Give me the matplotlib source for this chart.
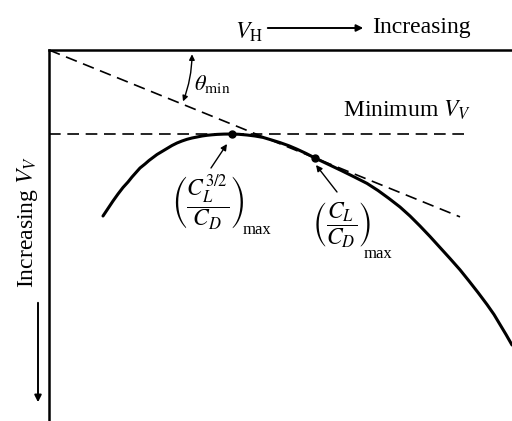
import numpy as np
import matplotlib
matplotlib.use('Agg')
import matplotlib.pyplot as plt
from matplotlib.patches import FancyArrowPatch

plt.rcParams['font.family'] = ['Liberation Serif', 'DejaVu Serif']
plt.rcParams['mathtext.fontset'] = 'stix'

# glide hodograph: horizontal speed vs sink speed (arbitrary units, sink positive downward)
vh = [54, 59, 64, 69, 74, 79, 83, 87, 91, 96, 100, 104, 108, 113, 118, 123, 128, 133,
      138, 143, 148, 153, 158, 163, 168, 175, 183, 190, 198, 206, 214, 222,
      231, 240, 248, 257, 266, 279, 292, 305, 318, 329, 340, 351, 361, 371,
      381, 391, 401, 411, 420, 429, 438, 445, 451, 457, 463]
vv = [166, 158.5, 151, 144, 137.5, 132, 127, 122.5, 118, 114, 110.5, 107.5, 104.5, 101.5,
      98.5, 95.5, 93, 91, 89.3, 88, 87, 86, 85.3, 84.8, 84.4, 84.1, 84, 84.3, 85, 86,
      87.4, 89.8, 92.6, 95.8, 99.2, 103.4, 108, 114.2, 120.4, 126.8, 133.4, 140.5,
      148.5, 157, 166, 176, 186.5, 197.5, 208.5, 219.8, 231, 242.5, 254.5, 264.5,
      274.5, 284.5, 295]

# operating points
vh_endur, vv_endur = 183, 84      # (CL^3/2 / CD)max  -> minimum sink
vh_range, vv_range = 266, 108     # (CL/CD)max        -> tangent from origin
vh_stop = 411                     # end of the tangent line
vh_hline = 420                    # end of the minimum-sink line

fig = plt.figure(figsize=(5.12, 4.21), dpi=100)
ax = fig.add_axes([49/512, 0.0, 463/512, 371/421])
ax.set_xlim(0, 463)
ax.set_ylim(371, 0)

ax.plot(vh, vv, color='black', lw=2.2, solid_capstyle='round', solid_joinstyle='round')

dash = (0, (7, 4))
# minimum sink speed line
ax.plot([0, vh_hline], [vv_endur, vv_endur], color='black', lw=1.2, ls=dash)

# tangent from origin through the best glide point
slope = vv_range / vh_range
ax.plot([0, vh_stop], [0, slope * vh_stop], color='black', lw=1.2, ls=dash)

ax.plot([vh_endur, vh_range], [vv_endur, vv_range], 'o', color='black', ms=5)

# glide angle arrow
theta = FancyArrowPatch((143, 1.5), (133, slope * 133), arrowstyle='<|-|>',
                        mutation_scale=8, connectionstyle='arc3,rad=-0.1',
                        color='black', lw=1.0)
ax.add_patch(theta)
ax.text(145, 34, r'$\theta_{\rm min}$', fontsize=16, va='center', ha='left')

ax.text(422, 60, r'Minimum $V_V$', fontsize=17, ha='right', va='center')

# labels for the two operating points
ax.text(122, 153, r'$\left(\dfrac{C_L^{3/2}}{C_D}\right)$',
        fontsize=17, ha='left', va='center')
ax.text(194, 180, 'max', fontsize=12, ha='left', va='center')
ax.text(263, 175, r'$\left(\dfrac{C_L}{C_D}\right)$',
        fontsize=17, ha='left', va='center')
ax.text(315, 204, 'max', fontsize=12, ha='left', va='center')
ax.annotate('', xy=(178, 94), xytext=(162, 118),
            arrowprops=dict(arrowstyle='-|>', color='black', lw=1.0,
                            mutation_scale=9, shrinkA=0, shrinkB=0))
ax.annotate('', xy=(267, 115), xytext=(288, 142),
            arrowprops=dict(arrowstyle='-|>', color='black', lw=1.0,
                            mutation_scale=9, shrinkA=0, shrinkB=0))

for side in ['right', 'bottom']:
    ax.spines[side].set_visible(False)
for side in ['top', 'left']:
    ax.spines[side].set_linewidth(1.8)
ax.set_xticks([])
ax.set_yticks([])

# axis direction labels
fig.text(249/512, 1 - 32/421, r'$V_{\rm H}$', fontsize=17, ha='center', va='center')
fig.add_artist(FancyArrowPatch((265/512, 1 - 28/421), (366/512, 1 - 28/421),
                               transform=fig.transFigure, arrowstyle='-|>',
                               mutation_scale=10, color='black', lw=1.4))
fig.text(372/512, 1 - 28/421, 'Increasing', fontsize=17, ha='left', va='center')

fig.text(27/512, 1 - 222/421, r'Increasing $V_V$', fontsize=17, rotation=90,
         ha='center', va='center')
fig.add_artist(FancyArrowPatch((38/512, 1 - 300/421), (38/512, 1 - 405/421),
                               transform=fig.transFigure, arrowstyle='-|>',
                               mutation_scale=10, color='black', lw=1.4))

fig.savefig('out.png', dpi=100)
